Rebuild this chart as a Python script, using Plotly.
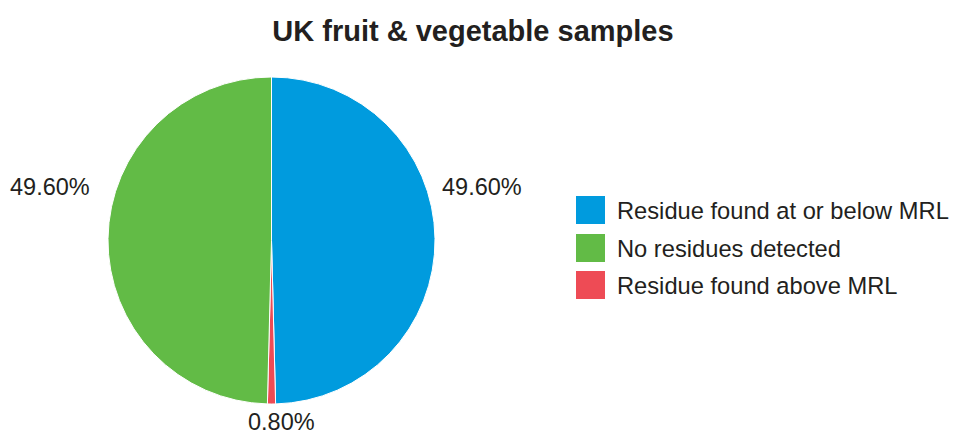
import plotly.graph_objects as go

# Sample outcomes (share of samples, %)
categories = ["Residue found at or below MRL", "Residue found above MRL", "No residues detected"]
shares = [49.6, 0.8, 49.6]
colors = ["#009BDE", "#EE4B55", "#62BB46"]
legend_order = ["Residue found at or below MRL", "No residues detected", "Residue found above MRL"]

W, H = 955, 434
FONT = "Liberation Sans, Arial, Helvetica, sans-serif"
TEXT = "#231F20"

fig = go.Figure(
    go.Pie(
        labels=categories,
        values=shares,
        sort=False,
        direction="clockwise",
        rotation=0,
        marker=dict(colors=colors, line=dict(color="white", width=1)),
        textinfo="none",
        hoverinfo="label+percent",
        showlegend=False,
        domain=dict(x=[108 / W, 435 / W], y=[(H - 404) / H, (H - 77) / H]),
    )
)

# Value labels around the pie
label_pos = {
    "Residue found at or below MRL": dict(x=440, y=187, xanchor="left"),
    "No residues detected": dict(x=92, y=187, xanchor="right"),
    "Residue found above MRL": dict(x=281, y=422, xanchor="center"),
}
annotations = []
for cat, val in zip(categories, shares):
    p = label_pos[cat]
    annotations.append(dict(
        text=f"{val:.2f}%", x=p["x"] / W, y=1 - p["y"] / H, xref="paper", yref="paper",
        xanchor=p["xanchor"], yanchor="middle", showarrow=False,
        font=dict(family=FONT, size=23.5, color=TEXT),
    ))

# Legend: square swatches with labels
shapes = []
color_of = dict(zip(categories, colors))
row_y = [210, 248, 285]
for cat, cy in zip(legend_order, row_y):
    shapes.append(dict(
        type="rect", xref="paper", yref="paper",
        x0=576 / W, x1=605 / W, y0=1 - (cy + 14) / H, y1=1 - (cy - 14) / H,
        fillcolor=color_of[cat], line=dict(width=0),
    ))
    annotations.append(dict(
        text=cat, x=615 / W, y=1 - (cy + 1) / H, xref="paper", yref="paper",
        xanchor="left", yanchor="middle", showarrow=False,
        font=dict(family=FONT, size=23.7, color=TEXT),
    ))

fig.update_layout(
    width=W, height=H,
    margin=dict(l=0, r=0, t=0, b=0),
    paper_bgcolor="white", plot_bgcolor="white",
    title=dict(
        text="<b>UK fruit & vegetable samples</b>",
        x=473 / W, xanchor="center", y=1 - 31 / H, yanchor="middle",
        font=dict(family=FONT, size=29, color=TEXT),
    ),
    annotations=annotations,
    shapes=shapes,
)

fig.write_html("out.html")
